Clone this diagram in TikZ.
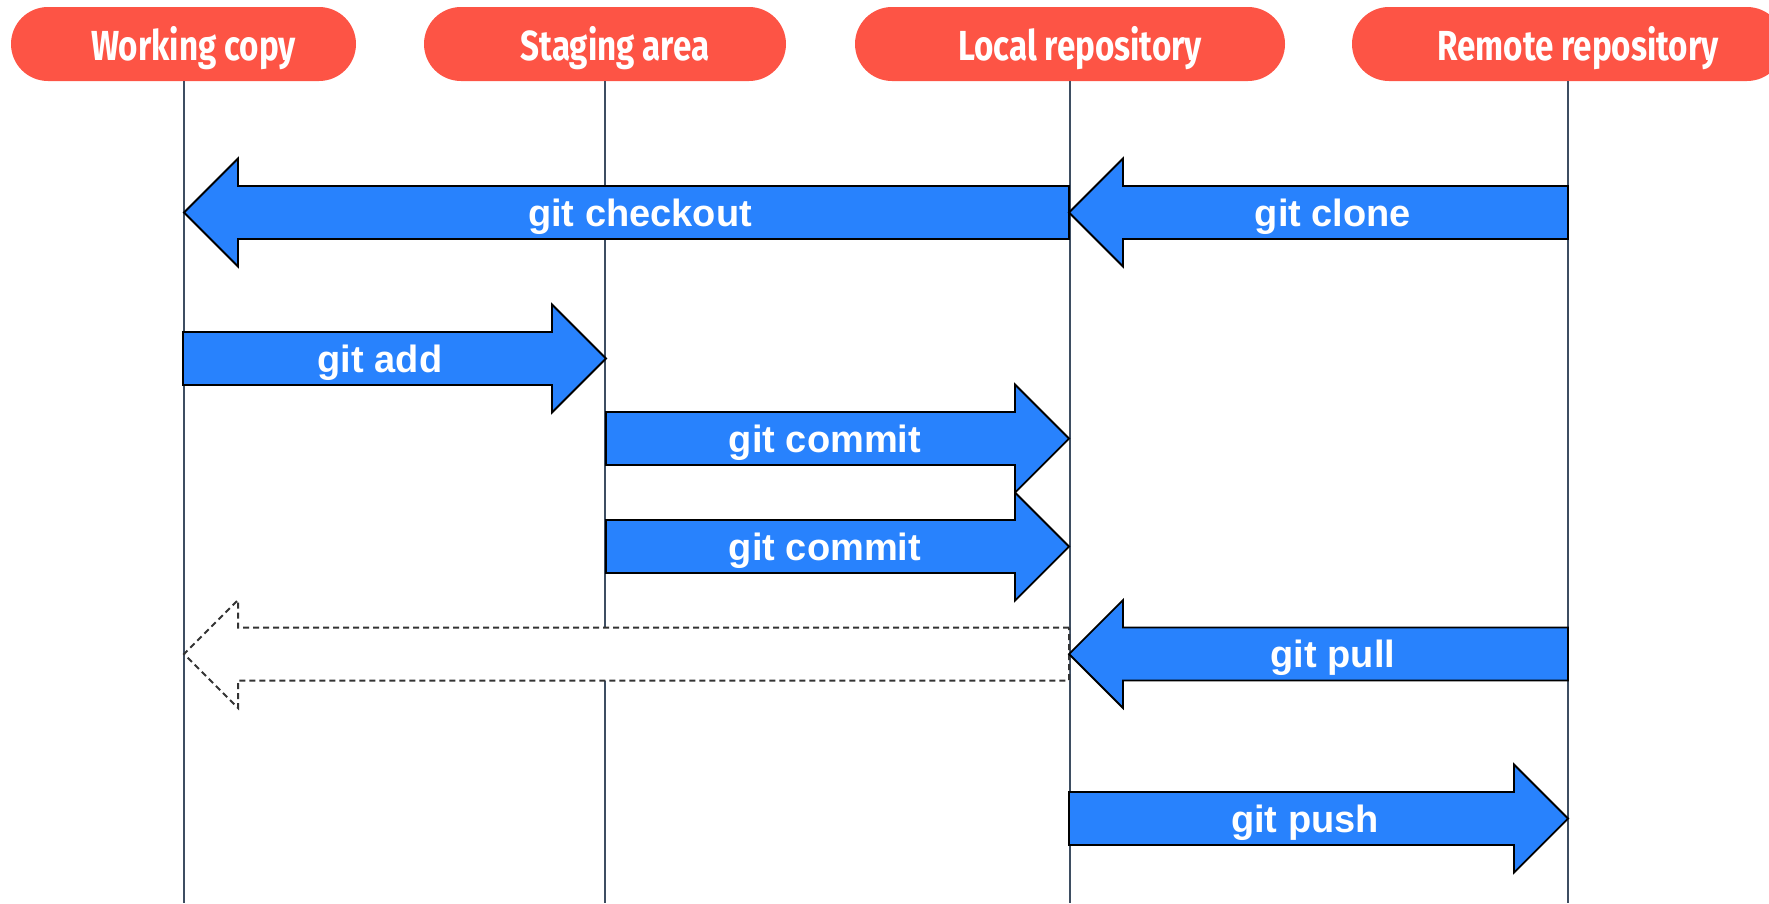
\documentclass[tikz,border=0pt]{standalone}
\usepackage{fontspec}
\setmainfont{Liberation Sans}
\newfontfamily\pillfont[FakeStretch=0.79]{Fira Sans}
\definecolor{pillred}{HTML}{FD5445}
\definecolor{arrowblue}{HTML}{2882FD}
\definecolor{lifecol}{HTML}{3E4E62}
\newcommand\blockarr[4]{%
  \pgfmathsetmacro\hb{#2 - 54*sign(#2-#1)}%
  \draw[#4] (#1,#3-26.5) -- (\hb,#3-26.5) -- (\hb,#3-54) -- (#2,#3) -- (\hb,#3+54) -- (\hb,#3+26.5) -- (#1,#3+26.5) -- cycle;}
\tikzset{
  pill/.style={fill=pillred, rounded corners=37pt, minimum height=74pt, inner sep=0pt},
  pilltext/.style={text=white, inner sep=0pt, font=\pillfont\bfseries\fontsize{42}{46}\selectfont},
  lifeline/.style={draw=lifecol, line width=2pt},
  blockarrow/.style={fill=arrowblue, draw=black, line width=1.8pt, line join=miter},
  ghostarrow/.style={fill=white, draw=black!80, line width=2pt, dash pattern=on 6pt off 4pt},
  cmdlabel/.style={text=white, inner sep=0pt, font=\bfseries\fontsize{38}{40}\selectfont}
}
\begin{document}
\begin{tikzpicture}[x=1pt, y=-1pt]
\useasboundingbox (0,0) rectangle (1769,903);
\clip (0,0) rectangle (1769,903);
% headers
\node[pill, minimum width=345pt] (wc) at (183.5,44) {};
\node[pill, minimum width=362pt] (sa) at (605,44) {};
\node[pill, minimum width=430pt] (lr) at (1070,44) {};
\node[pill, minimum width=432pt] (rr) at (1568,44) {};
\node[pilltext] (wct) at ([xshift=10pt,yshift=-4pt]wc.center) {Working copy};
\node[pilltext] (sat) at ([xshift=10pt,yshift=-4pt]sa.center) {Staging area};
\node[pilltext] (lrt) at ([xshift=10pt,yshift=-4pt]lr.center) {Local repository};
\node[pilltext] (rrt) at ([xshift=10pt,yshift=-4pt]rr.center) {Remote repository};
% lifelines
\coordinate (bottom) at (0,903);
\draw[lifeline] (wc.south) -- (wc.south |- bottom);
\draw[lifeline] (sa.south) -- (sa.south |- bottom);
\draw[lifeline] (lr.south) -- (lr.south |- bottom);
\draw[lifeline] (rr.south) -- (rr.south |- bottom);
% arrows
\blockarr{1069}{184}{212.5}{blockarrow}
\blockarr{1568}{1069}{212.5}{blockarrow}
\blockarr{183}{606}{358.5}{blockarrow}
\blockarr{606}{1069}{438.5}{blockarrow}
\blockarr{606}{1069}{546.5}{blockarrow}
\blockarr{1069}{184}{654}{ghostarrow}
\blockarr{1568}{1069}{654}{blockarrow}
\blockarr{1069}{1568}{818.5}{blockarrow}
% labels
\node[cmdlabel] (checkout) at (640,216.5) {git checkout};
\node[cmdlabel] (clone) at (1333,216.5) {git clone};
\node[cmdlabel] (add) at (380,362.5) {git add};
\node[cmdlabel] (commitA) at (825,442.5) {git commit};
\node[cmdlabel] (commitB) at (825,550.5) {git commit};
\node[cmdlabel] (pull) at (1333,658) {git pull};
\node[cmdlabel] (push) at (1305,822.5) {git push};
\end{tikzpicture}
\end{document}
